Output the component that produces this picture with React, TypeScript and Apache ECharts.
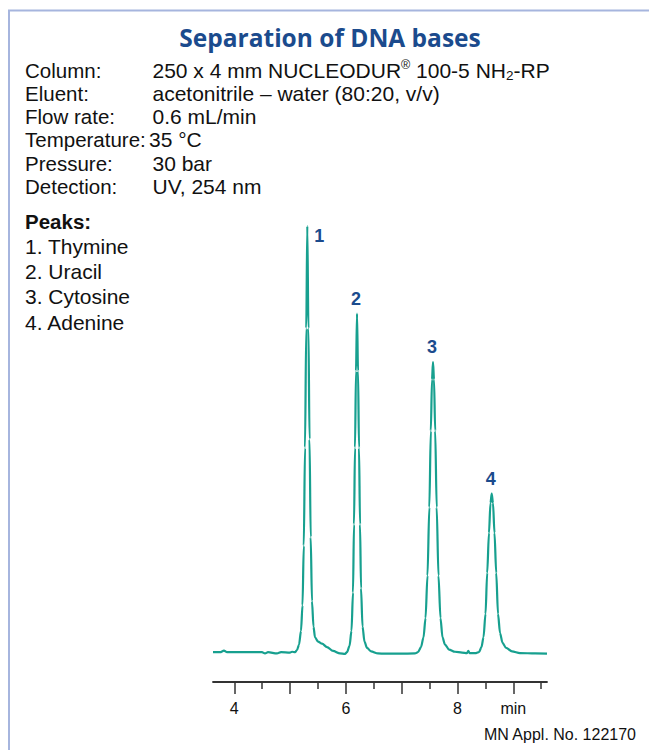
import React, { useEffect, useRef } from "react";
import * as echarts from "echarts";

// ---- data ----
const timeMin = [
  3.618, 3.744, 3.815, 3.869, 4.496, 4.55, 4.604, 4.765, 4.837, 4.998, 5.034, 5.088,
  5.124, 5.16, 5.195, 5.222, 5.245, 5.267, 5.289, 5.308, 5.328, 5.348, 5.369, 5.392,
  5.419, 5.446, 5.5, 5.572, 5.661, 5.769, 5.894, 5.984,
  6.02, 6.065, 6.1, 6.127, 6.145, 6.163, 6.181, 6.199, 6.217, 6.235, 6.253, 6.271,
  6.298, 6.333, 6.378, 6.45, 6.575,
  6.701, 6.97, 7.238,
  7.292, 7.346, 7.391, 7.427, 7.462, 7.495, 7.522, 7.543, 7.561, 7.579, 7.6, 7.627,
  7.659, 7.695, 7.731, 7.776, 7.848, 7.955, 8.081, 8.17, 8.194, 8.215, 8.332,
  8.385, 8.43, 8.466, 8.502, 8.532, 8.564, 8.591, 8.613, 8.636, 8.663, 8.694, 8.726,
  8.762, 8.807, 8.87, 8.977, 9.12, 9.389, 9.604,
];
const signal = [
  0, 0, 0.35, 0, 0, -0.3, 0, -0.3, 0, -0.1, 0.1, 0,
  0.5, 1.8, 5, 11, 25, 48, 76, 100, 76, 50, 27, 12,
  6, 3.5, 2.5, 2, 1.2, 0.3, -0.3, -0.4,
  0, 1.5, 5, 14, 30, 48, 66, 79.5, 66, 48, 30, 15,
  6, 2.5, 1, 0.2, -0.3,
  -0.35, -0.35, -0.3,
  0, 1.2, 3.5, 8, 18, 34, 52, 64, 68.1, 64, 52, 34,
  18, 8, 3.5, 1.8, 0.6, 0.1, -0.1, -0.2, 0.3, -0.2, -0.2,
  0, 1.2, 3.5, 9, 18.6, 28, 35, 37.2, 35, 28, 18.6, 9,
  4.5, 2.2, 1, 0.2, -0.2, -0.3, -0.35,
];

const peakNumbers = ["1", "2", "3", "4"];
const peakNames = ["Thymine", "Uracil", "Cytosine", "Adenine"];
const peakTimes = [5.308, 6.199, 7.561, 8.613];
const peakHeights = [100, 79.5, 68.1, 37.2];

const conditionLabels = ["Column:", "Eluent:", "Flow rate:", "Temperature:", "Pressure:", "Detection:"];
const conditionValues = [
  "{n|250 x 4 mm NUCLEODUR}{sup|®}{n| 100-5 NH}{sub|2}{n|-RP}",
  "{n|acetonitrile – water (80:20, v/v)}",
  "{n|0.6 mL/min}",
  "{n|35 °C}",
  "{n|30 bar}",
  "{n|UV, 254 nm}",
];

const majorTicks = [4, 5, 6, 7, 8, 9];
const minorTicks = [4.5, 5.5, 6.5, 7.5, 8.5, 9.5];
const labelTicks = [4, 6, 8, 9];
const unitLabel = "min";

const titleText = "Separation of DNA bases";
const footText = "MN Appl. No. 122170";

const FONT = "'Liberation Sans', Arial, Helvetica, sans-serif";
const TITLE_FONT = "'Open Sans', 'Noto Sans', sans-serif";
const LINE_COLOR = "#17a08f";
const BLUE = "#1b4b8d";
const BORDER = "#a6b5de";

export default function App() {
  const ref = useRef<HTMLDivElement>(null);

  useEffect(() => {
    if (!ref.current) return;
    const chart = echarts.init(ref.current, null, { renderer: "svg" });

    const graphics: any[] = [];
    graphics.push({
      type: "line",
      shape: { x1: 8, y1: 10.5, x2: 649, y2: 10.5 },
      style: { stroke: BORDER, lineWidth: 2 },
    });
    graphics.push({
      type: "line",
      shape: { x1: 9, y1: 10, x2: 9, y2: 750 },
      style: { stroke: BORDER, lineWidth: 2 },
    });
    graphics.push({
      type: "text",
      x: 330,
      y: 37,
      style: {
        text: titleText,
        fontSize: 24.5,
        fontWeight: "bold",
        fontFamily: TITLE_FONT,
        fill: BLUE,
        align: "center",
        verticalAlign: "middle",
        textAlign: "center",
        textVerticalAlign: "middle",
      },
    });
    const rowY0 = 70;
    const rowStep = 23.3;
    conditionLabels.forEach((lab, i) => {
      graphics.push({
        type: "text",
        x: 25,
        y: rowY0 + i * rowStep,
        style: {
          text: lab,
          fontSize: 20.5,
          fontFamily: FONT,
          fill: "#111",
          align: "left",
          verticalAlign: "middle",
          textAlign: "left",
          textVerticalAlign: "middle",
        },
      });
      graphics.push({
        type: "text",
        x: i === 3 ? 149 : 152.5,
        y: rowY0 + i * rowStep,
        style: {
          text: conditionValues[i],
          fill: "#111",
          align: "left",
          verticalAlign: "middle",
          textAlign: "left",
          textVerticalAlign: "middle",
          rich: {
            n: { fontSize: 21, lineHeight: 24, fontFamily: FONT, fill: "#111" },
            sup: { fontSize: 12.5, lineHeight: 17, fontFamily: FONT, fill: "#111", verticalAlign: "top" },
            sub: { fontSize: 13.5, lineHeight: 10, fontFamily: FONT, fill: "#111", verticalAlign: "bottom" },
          },
        },
      });
    });
    graphics.push({
      type: "text",
      x: 25,
      y: 221,
      style: {
        text: "Peaks:",
        fontSize: 20.5,
        fontWeight: "bold",
        fontFamily: FONT,
        fill: "#111",
        align: "left",
        verticalAlign: "middle",
        textAlign: "left",
        textVerticalAlign: "middle",
      },
    });
    peakNames.forEach((nm, i) => {
      graphics.push({
        type: "text",
        x: 25,
        y: 246.5 + i * 25.2,
        style: {
          text: `${peakNumbers[i]}. ${nm}`,
          fontSize: 21,
          fontFamily: FONT,
          fill: "#111",
          align: "left",
          verticalAlign: "middle",
          textAlign: "left",
          textVerticalAlign: "middle",
        },
      });
    });
    graphics.push({
      type: "text",
      x: 636,
      y: 734,
      style: {
        text: footText,
        fontSize: 16,
        fontFamily: FONT,
        fill: "#111",
        align: "right",
        verticalAlign: "middle",
        textAlign: "right",
        textVerticalAlign: "middle",
      },
    });

    const xMin = timeMin[0];
    const xMax = timeMin[timeMin.length - 1];

    chart.setOption({
      animation: false,
      backgroundColor: "#fff",
      grid: {
        left: 213,
        top: 213.4,
        width: 334,
        height: 468.6,
        containLabel: false,
        outerBoundsMode: "none",
      },
      xAxis: [
        {
          type: "value",
          position: "bottom",
          min: xMin,
          max: xMax,
          axisLine: { show: true, onZero: false, lineStyle: { color: "#333", width: 1.8 } },
          axisTick: {
            show: true,
            customValues: majorTicks,
            length: 12,
            lineStyle: { color: "#333", width: 1.5 },
          },
          axisLabel: {
            show: true,
            customValues: labelTicks,
            margin: 18,
            fontSize: 16,
            fontFamily: FONT,
            color: "#111",
            formatter: (v: number) => (v === 9 ? unitLabel : String(v)),
          },
          splitLine: { show: false },
        },
        {
          type: "value",
          position: "bottom",
          min: xMin,
          max: xMax,
          axisLine: { show: false, onZero: false },
          axisTick: {
            show: true,
            customValues: minorTicks,
            length: 7,
            lineStyle: { color: "#333", width: 1.5 },
          },
          axisLabel: { show: false },
          splitLine: { show: false },
        },
      ],
      yAxis: {
        type: "value",
        min: -7,
        max: 103,
        show: false,
        splitLine: { show: false },
      },
      series: [
        {
          type: "line",
          data: timeMin.map((t, i) => [t, signal[i]]),
          showSymbol: false,
          symbol: "none",
          smooth: 0.3,
          smoothMonotone: "x",
          clip: false,
          lineStyle: { color: LINE_COLOR, width: 2.2 },
        },
        {
          type: "scatter",
          symbolSize: 0,
          itemStyle: { color: BLUE, opacity: 0 },
          data: peakTimes.map((t, i) => ({
            value: [t, peakHeights[i]],
            label: {
              show: true,
              position: "inside",
              offset: i === 0 ? [12, 10] : [-1, -15],
              formatter: peakNumbers[i],
              color: BLUE,
              fontSize: 18,
              fontWeight: "bold",
              fontFamily: FONT,
              textBorderWidth: 0,
              textBorderColor: "transparent",
              opacity: 1,
            },
          })),
          label: {
            show: true,
            fontSize: 18,
            fontWeight: "bold",
            fontFamily: FONT,
            color: BLUE,
            textBorderWidth: 0,
          },
          clip: false,
          silent: true,
        },
      ],
      graphic: { elements: graphics },
    });

    return () => {
      chart.dispose();
    };
  }, []);

  return (
    <div
      ref={ref}
      style={{ position: "fixed", left: 0, top: 0, width: 649, height: 750 }}
    />
  );
}
